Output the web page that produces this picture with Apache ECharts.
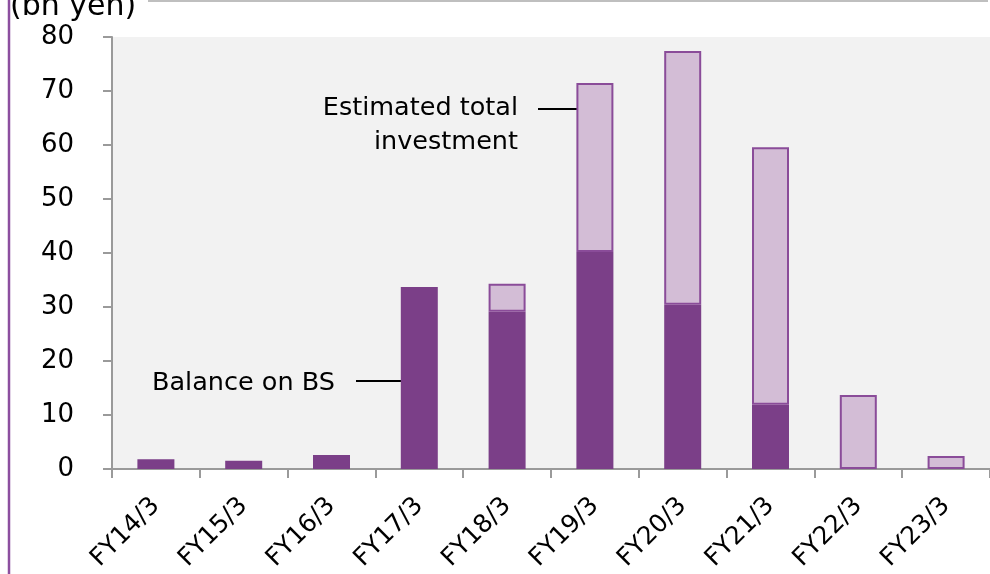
<!DOCTYPE html>
<html>
<head>
<meta charset="utf-8">
<script src="https://cdn.jsdelivr.net/npm/echarts@6/dist/echarts.min.js"></script>
<style>
  html, body { margin: 0; padding: 0; background: #ffffff; }
  #chart { width: 990px; height: 574px; }
</style>
</head>
<body>
<div id="chart"></div>
<script>
// Fiscal years on the category axis
const categories = ['FY14/3', 'FY15/3', 'FY16/3', 'FY17/3', 'FY18/3', 'FY19/3', 'FY20/3', 'FY21/3', 'FY22/3', 'FY23/3'];
// Amount already on the balance sheet (bn yen)
const balanceOnBS = [1.8, 1.55, 2.6, 33.7, 29.1, 40.2, 30.4, 11.9, 0, 0];
// Estimated total investment (bn yen); null where no estimate is shown
const estimatedTotal = [null, null, null, null, 34.3, 71.5, 77.4, 59.6, 13.7, 2.4];
// Value axis ticks
const yMin = 0, yMax = 80, yStep = 10;

// Portion of the estimate not yet on the balance sheet, stacked above it
const remainder = estimatedTotal.map((t, i) => t == null ? null : +(t - balanceOnBS[i]).toFixed(2));

const FONT = 'DejaVu Sans';
const DARK = '#7b3f88';
const LIGHT = '#d3bdd6';
const EDGE = '#8a4c99';
const AXIS = '#9a9a9a';

const chart = echarts.init(document.getElementById('chart'), null, { renderer: 'canvas' });

chart.setOption({
  animation: false,
  backgroundColor: '#ffffff',
  grid: {
    left: 112, top: 37, width: 879, height: 432,
    show: true, backgroundColor: '#f2f2f2', borderWidth: 0,
    containLabel: false
  },
  xAxis: {
    type: 'category',
    data: categories,
    axisLine: { show: true, lineStyle: { color: AXIS, width: 2 } },
    axisTick: { show: true, length: 9, alignWithLabel: false, lineStyle: { color: AXIS, width: 2 } },
    axisLabel: {
      rotate: 45, margin: 33, color: '#000', fontFamily: FONT, fontSize: 25, interval: 0
    }
  },
  yAxis: {
    type: 'value',
    min: yMin, max: yMax, interval: yStep,
    axisLine: { show: true, lineStyle: { color: AXIS, width: 2 } },
    axisTick: { show: true, length: 9, lineStyle: { color: AXIS, width: 2 } },
    splitLine: { show: false },
    axisLabel: { margin: 38, color: '#000', fontFamily: FONT, fontSize: 26 }
  },
  series: [
    {
      name: 'Balance on BS',
      type: 'bar',
      stack: 'inv',
      barWidth: 37,
      data: balanceOnBS,
      itemStyle: { color: DARK }
    },
    {
      name: 'Estimated total investment',
      type: 'bar',
      stack: 'inv',
      barWidth: 37,
      data: remainder,
      itemStyle: { color: LIGHT, borderColor: EDGE, borderWidth: 2 }
    }
  ],
  graphic: [
    // unit label
    { type: 'text', left: 10, top: -8, style: { text: '(bn yen)', font: '30px "DejaVu Sans"', fill: '#000' } },
    // frame lines
    { type: 'line', shape: { x1: 148, y1: 1, x2: 988, y2: 1 }, style: { stroke: '#bfbfbf', lineWidth: 2 } },
    { type: 'line', shape: { x1: 9, y1: 0, x2: 9, y2: 574 }, style: { stroke: '#8c4f9f', lineWidth: 2.5 } },
    // callouts
    { type: 'text', x: 518, y: 125, style: { text: 'Estimated total\ninvestment', font: '25.5px "DejaVu Sans"', fill: '#000', align: 'right', verticalAlign: 'middle', lineHeight: 34 } },
    { type: 'line', shape: { x1: 538, y1: 109, x2: 598, y2: 109 }, style: { stroke: '#000', lineWidth: 2 } },
    { type: 'text', x: 152, y: 383, style: { text: 'Balance on BS', font: '25.5px "DejaVu Sans"', fill: '#000', align: 'left', verticalAlign: 'middle' } },
    { type: 'line', shape: { x1: 356, y1: 381, x2: 416, y2: 381 }, style: { stroke: '#000', lineWidth: 2 } }
  ]
});
</script>
</body>
</html>
